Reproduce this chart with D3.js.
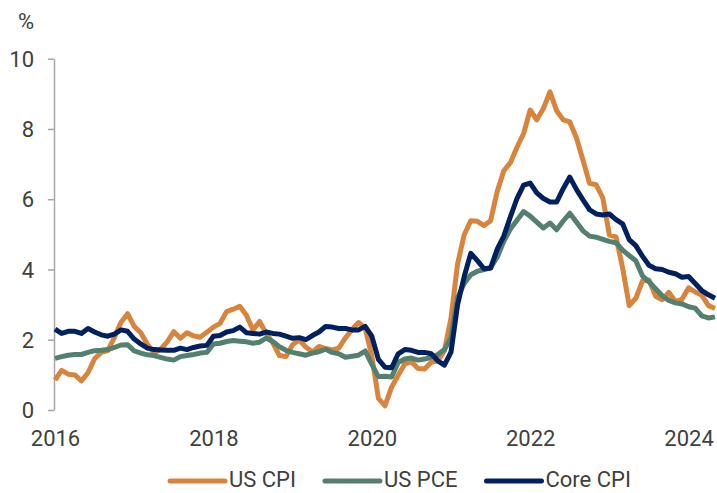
<!DOCTYPE html>
<html>
<head>
<meta charset="utf-8">
<script src="https://cdn.jsdelivr.net/npm/d3@7"></script>
<style>
  html, body { margin: 0; padding: 0; background: #fff; }
  svg { display: block; font-family: Roboto, "Liberation Sans", Arial, sans-serif; }
</style>
</head>
<body>
<svg id="chart" width="717" height="493"></svg>
<script>
// ---- Data (monthly, Mar 2016 – Jul 2024), year-on-year % ----
const months = d3.timeMonth.range(new Date(2016, 2, 1), new Date(2024, 7, 1)).map(d3.timeFormat("%Y-%m"));

const usCPI = [
  0.85, 1.13, 1.02, 1.00, 0.83, 1.06, 1.46, 1.64, 1.69, 2.07,
  2.50, 2.74, 2.38, 2.20, 1.87, 1.63, 1.73, 1.94, 2.23, 2.04, 2.20, 2.11,
  2.07, 2.21, 2.36, 2.46, 2.80, 2.87, 2.95, 2.70, 2.28, 2.52, 2.18, 1.91,
  1.55, 1.52, 1.86, 2.00, 1.79, 1.65, 1.81, 1.75, 1.71, 1.76, 2.05, 2.29,
  2.49, 2.33, 1.54, 0.33, 0.12, 0.65, 0.99, 1.31, 1.37, 1.18, 1.17, 1.36,
  1.40, 1.68, 2.62, 4.16, 4.99, 5.39, 5.37, 5.25, 5.39, 6.22, 6.81, 7.04,
  7.48, 7.87, 8.54, 8.26, 8.58, 9.06, 8.52, 8.26, 8.20, 7.75, 7.11, 6.45,
  6.41, 6.04, 4.98, 4.93, 4.05, 2.97, 3.18, 3.67, 3.70, 3.24, 3.14, 3.35,
  3.09, 3.15, 3.48, 3.36, 3.27, 2.97, 2.89
];

const usPCE = [
  1.47, 1.52, 1.56, 1.58, 1.58, 1.64, 1.69, 1.70, 1.72, 1.78,
  1.85, 1.86, 1.68, 1.62, 1.57, 1.55, 1.50, 1.45, 1.42, 1.52, 1.55, 1.58,
  1.62, 1.64, 1.88, 1.90, 1.95, 1.98, 1.96, 1.94, 1.90, 1.93, 2.05, 1.95,
  1.80, 1.70, 1.64, 1.60, 1.56, 1.62, 1.66, 1.73, 1.64, 1.60, 1.50, 1.53,
  1.56, 1.68, 1.30, 0.95, 0.96, 0.94, 1.35, 1.45, 1.48, 1.42, 1.45, 1.50,
  1.58, 1.72, 2.05, 3.20, 3.60, 3.85, 3.95, 4.00, 4.05, 4.35, 4.80, 5.15,
  5.40, 5.65, 5.52, 5.35, 5.18, 5.32, 5.13, 5.38, 5.60, 5.35, 5.10, 4.95,
  4.92, 4.86, 4.80, 4.76, 4.55, 4.40, 4.25, 3.82, 3.65, 3.45, 3.25, 3.12,
  3.05, 3.02, 2.94, 2.90, 2.68, 2.62, 2.65
];

const coreCPI = [
  2.30, 2.18, 2.24, 2.24, 2.18, 2.32, 2.22, 2.14, 2.10, 2.16,
  2.28, 2.24, 2.02, 1.88, 1.76, 1.72, 1.71, 1.70, 1.70, 1.76, 1.72, 1.78,
  1.82, 1.84, 2.10, 2.12, 2.22, 2.26, 2.36, 2.20, 2.18, 2.16, 2.22, 2.18,
  2.16, 2.10, 2.04, 2.06, 2.00, 2.12, 2.22, 2.38, 2.36, 2.32, 2.32, 2.28,
  2.28, 2.38, 2.10, 1.44, 1.22, 1.20, 1.60, 1.72, 1.70, 1.64, 1.64, 1.60,
  1.40, 1.28, 1.65, 3.00, 3.80, 4.46, 4.25, 4.02, 4.04, 4.58, 4.95, 5.50,
  6.02, 6.40, 6.46, 6.18, 6.02, 5.92, 5.92, 6.30, 6.63, 6.28, 5.98, 5.70,
  5.58, 5.55, 5.58, 5.42, 5.30, 4.85, 4.68, 4.38, 4.12, 4.02, 4.00, 3.92,
  3.88, 3.78, 3.80, 3.60, 3.40, 3.28, 3.18
];

const seriesNames = ["US CPI", "US PCE", "Core CPI"];
const seriesColors = ["#D9843C", "#54806F", "#002060"];
const seriesValues = [usCPI, usPCE, coreCPI];

const yTicks = [0, 2, 4, 6, 8, 10];
const xTickMonths = ["2016-03", "2018-03", "2020-03", "2022-03", "2024-03"];
const xTickLabels = ["2016", "2018", "2020", "2022", "2024"];
const yUnit = "%";

// ---- Layout ----
const svg = d3.select("#chart");
const textColor = "#404040";
const fontSize = 22;

const x = d3.scalePoint().domain(months).range([55, 715]);
const y = d3.scaleLinear().domain([0, 10]).range([410, 58.7]);

// Y axis
const yAxis = svg.append("g")
  .attr("transform", "translate(54,0)")
  .call(d3.axisLeft(y).tickValues(yTicks).tickSize(6).tickSizeOuter(0).tickPadding(14));
yAxis.select(".domain").attr("stroke", "#A6A6A6").attr("stroke-width", 1.5);
yAxis.selectAll(".tick line").attr("stroke", "#A6A6A6").attr("stroke-width", 1.5);
yAxis.selectAll(".tick text")
  .attr("fill", textColor)
  .attr("font-size", fontSize)
  .attr("font-family", "Roboto, 'Liberation Sans', Arial, sans-serif")
  .attr("dy", "0.35em");

// X axis (labels only)
const xAxis = svg.append("g")
  .attr("transform", "translate(0,410)")
  .call(d3.axisBottom(x).tickValues(xTickMonths).tickSize(0).tickPadding(20)
    .tickFormat((d, i) => xTickLabels[i]));
xAxis.select(".domain").remove();
xAxis.selectAll(".tick text")
  .attr("fill", textColor)
  .attr("font-size", fontSize)
  .attr("font-family", "Roboto, 'Liberation Sans', Arial, sans-serif");

// Unit label
svg.append("text")
  .attr("x", 18)
  .attr("y", 29)
  .attr("fill", textColor)
  .attr("font-size", fontSize)
  .text(yUnit);

// Lines
const line = d3.line()
  .x((d, i) => x(months[i]))
  .y(d => y(d));

seriesValues.forEach((vals, k) => {
  svg.append("path")
    .datum(vals)
    .attr("fill", "none")
    .attr("stroke", seriesColors[k])
    .attr("stroke-width", 5)
    .attr("stroke-linejoin", "round")
    .attr("stroke-linecap", "butt")
    .attr("d", line);
});

// Legend
const legend = svg.append("g");
let lx = 170;
const ly = 481;
seriesNames.forEach((name, k) => {
  legend.append("line")
    .attr("x1", lx).attr("x2", lx + 55)
    .attr("y1", ly).attr("y2", ly)
    .attr("stroke", seriesColors[k])
    .attr("stroke-width", 5)
    .attr("stroke-linecap", "round");
  const t = legend.append("text")
    .attr("x", lx + 59)
    .attr("y", 487)
    .attr("fill", textColor)
    .attr("font-size", fontSize)
    .text(name);
  lx = lx + 59 + t.node().getComputedTextLength() + 29;
});
</script>
</body>
</html>
